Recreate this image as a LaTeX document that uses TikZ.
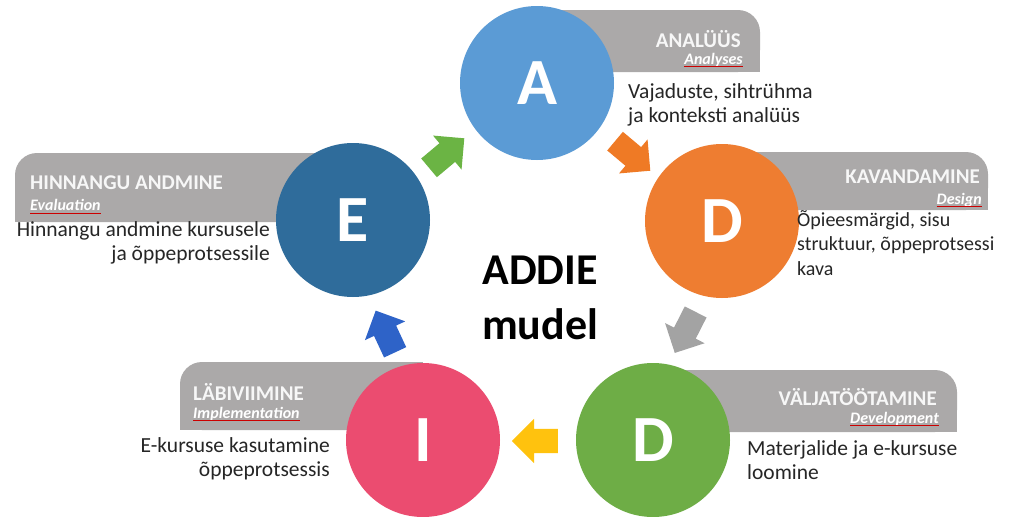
\documentclass[tikz,border=0pt]{standalone}
\usepackage{fontspec}
\setmainfont{Carlito}
\usetikzlibrary{shapes.arrows}
\definecolor{cA}{HTML}{5B9BD5}
\definecolor{cDo}{HTML}{EE7D31}
\definecolor{cDg}{HTML}{6EAD46}
\definecolor{cI}{HTML}{EB4C70}
\definecolor{cE}{HTML}{2F6C9B}
\definecolor{band}{HTML}{ABA9A9}
\definecolor{txt}{HTML}{262626}
\definecolor{aGreen}{HTML}{6BB444}
\definecolor{aOrange}{HTML}{EF7A25}
\definecolor{aGray}{HTML}{A3A3A3}
\definecolor{aYellow}{HTML}{FFC20E}
\definecolor{aBlue}{HTML}{2E63C8}
\begin{document}
\begin{tikzpicture}[x=1pt,y=-1pt,
 phase/.style={circle, minimum size=154pt, inner sep=0, text=white, font=\fontsize{66}{66}\selectfont\bfseries},
 title/.style={text=white!94!gray, font=\fontsize{21}{21}\selectfont\bfseries, inner sep=0},
 sub/.style={text=white, font=\fontsize{16}{16}\selectfont\bfseries\itshape, inner sep=0},
 desc/.style={text=txt, font=\fontsize{21.5}{24.5}\selectfont, inner sep=0},
 uline/.style={draw=red!80!black, line width=0.8pt},
 blockarrow/.style={single arrow, minimum height=46pt, inner xsep=0pt, inner ysep=12pt, single arrow head extend=10pt, draw=none}
]
\useasboundingbox (0,0) rectangle (1029,517);
\clip (0,0) rectangle (1029,517);
\fill[white] (0,0) rectangle (1029,517);

% banners
\fill[band, rounded corners=22pt] (537,10) rectangle (760,72);
\fill[band] (537,10) rectangle (720,72);
\fill[band] (537,40) rectangle (760,72);

\fill[band, rounded corners=22pt] (722,152) rectangle (988,210);
\fill[band] (722,152) rectangle (950,210);
\fill[band] (722,180) rectangle (988,210);

\fill[band, rounded corners=22pt] (15,153) rectangle (353,222);
\fill[band] (55,153) rectangle (353,222);
\fill[band] (15,185) rectangle (353,222);

\fill[band, rounded corners=22pt] (180,362) rectangle (423,430);
\fill[band] (220,362) rectangle (423,430);
\fill[band] (180,395) rectangle (423,430);

\fill[band, rounded corners=22pt] (653,370) rectangle (957,432);
\fill[band] (653,370) rectangle (920,432);
\fill[band] (653,400) rectangle (957,432);

% circles
\node[phase, fill=cA] (A) at (537,83) {A};
\node[phase, fill=cDo] (D1) at (722,221) {D};
\node[phase, fill=cDg] (D2) at (653,440) {D};
\node[phase, fill=cI] (I) at (423,440) {I};
\node[phase, fill=cE] (E) at (353,220) {E};

% titles
\node[title, anchor=east] (At) at (741,39) {ANALÜÜS};
\node[sub, anchor=east] (As) at (743,60) {Analyses};
\node[title, anchor=east] (D1t) at (980,177) {KAVANDAMINE};
\node[sub, anchor=east] (D1s) at (982,200) {Design};
\node[title, anchor=west] (Et) at (30,183) {HINNANGU ANDMINE};
\node[sub, anchor=west] (Es) at (30,205) {Evaluation};
\node[title, anchor=west] (It) at (193,392) {LÄBIVIIMINE};
\node[sub, anchor=west] (Is) at (193,414) {Implementation};
\node[title, anchor=east] (D2t) at (937,397) {VÄLJATÖÖTAMINE};
\node[sub, anchor=east] (D2s) at (939,419) {Development};
\foreach \s in {As,D1s,Es,Is,D2s}
  \draw[uline] ([yshift=-2.5pt]\s.base west) -- ([yshift=-2.5pt]\s.base east);

% descriptions
\node[desc, anchor=north west, align=left] (Ad) at (628,83) {Vajaduste, sihtrühma\\ja konteksti analüüs};
\node[desc, anchor=north west, align=left, font=\fontsize{20}{24.5}\selectfont] (D1d) at (797,210) {Õpieesmärgid, sisu\\struktuur, õppeprotsessi\\kava};
\node[desc, anchor=north east, align=right] (Ed) at (270,221) {Hinnangu andmine kursusele\\ja õppeprotsessile};
\node[desc, anchor=north east, align=right] (Id) at (330,437) {E-kursuse kasutamine\\õppeprotsessis};
\node[desc, anchor=north west, align=left] (D2d) at (747,440) {Materjalide ja e-kursuse\\loomine};

% centre
\node[font=\fontsize{44}{55}\selectfont\bfseries, align=center, inner sep=0] (M) at (540,298) {ADDIE\\mudel};

% block arrows
\node[blockarrow, fill=aGreen, rotate=40] (ga) at (442,157) {};
\node[blockarrow, fill=aOrange, rotate=-40] (oa) at (628,152) {};
\node[blockarrow, fill=aGray, rotate=243] (gra) at (688,327) {};
\node[blockarrow, fill=aYellow, rotate=180] (ya) at (541,441) {};
\node[blockarrow, fill=aBlue, rotate=115] (ba) at (388,337) {};
\end{tikzpicture}
\end{document}
